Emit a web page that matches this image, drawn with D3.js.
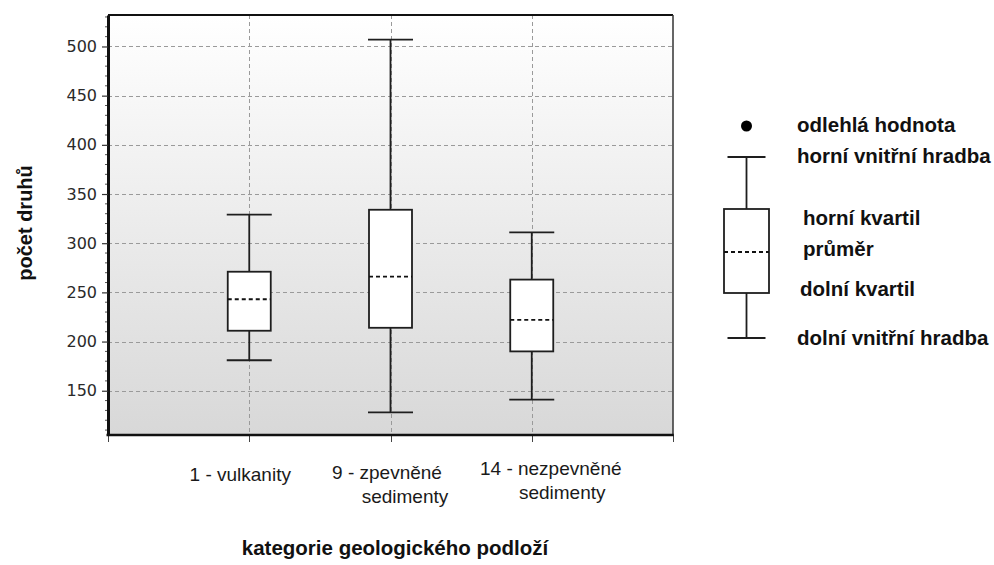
<!DOCTYPE html>
<html>
<head>
<meta charset="utf-8">
<script src="https://cdn.jsdelivr.net/npm/d3@7"></script>
<style>
  html, body { margin: 0; padding: 0; background: #ffffff; }
  svg { display: block; }
</style>
</head>
<body>
<script>
// Species counts by geological bedrock category
const categories = ["1 - vulkanity", "9 - zpevněné sedimenty", "14 - nezpevněné sedimenty"];
const categoryLines = [["1 - vulkanity"], ["9 - zpevněné", "sedimenty"], ["14 - nezpevněné", "sedimenty"]];
const lowerFence    = [181, 128, 141];
const lowerQuartile = [211, 214, 190];
const meanValue     = [243, 266, 222];
const upperQuartile = [271, 334, 263];
const upperFence    = [329, 507, 311];
const yTicks = [150, 200, 250, 300, 350, 400, 450, 500];
const legendLabels = ["odlehlá hodnota", "horní vnitřní hradba", "horní kvartil", "průměr", "dolní kvartil", "dolní vnitřní hradba"];

const W = 994, H = 565;
const plot = { left: 108, right: 673, top: 15, bottom: 435 };
const ink = "#1e1e1e", lineW = 1.8;

const svg = d3.select("body").append("svg").attr("width", W).attr("height", H);

const x = d3.scalePoint().domain(categories).range([plot.left, plot.right]).padding(1);
const y = d3.scaleLinear().domain([105, 532]).range([plot.bottom, plot.top]);

// plot background gradient
const defs = svg.append("defs");
const grad = defs.append("linearGradient").attr("id", "bg").attr("x1", 0).attr("y1", 0).attr("x2", 0).attr("y2", 1);
grad.append("stop").attr("offset", "0%").attr("stop-color", "#ffffff");
grad.append("stop").attr("offset", "100%").attr("stop-color", "#d8d8d8");

svg.append("rect")
  .attr("x", plot.left).attr("y", plot.top)
  .attr("width", plot.right - plot.left).attr("height", plot.bottom - plot.top)
  .attr("fill", "url(#bg)");

// grid lines
const grid = svg.append("g").attr("stroke", "#9a9a9a").attr("stroke-width", 1).attr("stroke-dasharray", "4,3");
grid.selectAll("line.h").data(yTicks).join("line").attr("class", "h")
  .attr("x1", plot.left).attr("x2", plot.right)
  .attr("y1", d => Math.round(y(d)) + 0.5).attr("y2", d => Math.round(y(d)) + 0.5);
grid.selectAll("line.v").data(categories).join("line").attr("class", "v")
  .attr("x1", d => Math.round(x(d)) + 0.5).attr("x2", d => Math.round(x(d)) + 0.5)
  .attr("y1", plot.top).attr("y2", plot.bottom);

// frame: top and right borders
svg.append("line").attr("x1", plot.left).attr("x2", plot.right).attr("y1", plot.top).attr("y2", plot.top)
  .attr("stroke", "#111").attr("stroke-width", 2);
svg.append("line").attr("x1", plot.right).attr("x2", plot.right).attr("y1", plot.top).attr("y2", plot.bottom)
  .attr("stroke", "#333").attr("stroke-width", 1.5);

// y axis with minor ticks
const minor = d3.range(110, 531, 10).filter(v => v % 50 !== 0);
svg.append("g").selectAll("line").data(minor).join("line")
  .attr("x1", plot.left - 3).attr("x2", plot.left)
  .attr("y1", d => y(d)).attr("y2", d => y(d))
  .attr("stroke", "#555").attr("stroke-width", 1);

const yAxis = svg.append("g").attr("transform", `translate(${plot.left},0)`)
  .call(d3.axisLeft(y).tickValues(yTicks).tickSize(6).tickPadding(5).tickSizeOuter(0));
yAxis.select(".domain").attr("stroke", "#111").attr("stroke-width", 3);
yAxis.selectAll(".tick line").attr("stroke", "#333").attr("stroke-width", 1.2);
yAxis.selectAll(".tick text")
  .attr("font-family", "'DejaVu Sans', Verdana, sans-serif").attr("font-size", 16).attr("fill", "#2a2a2a");

// x axis
const xTickVals = [plot.left, ...categories.map(c => x(c)), plot.right];
svg.append("g").selectAll("line").data(xTickVals).join("line")
  .attr("x1", d => Math.round(d) + 0.5).attr("x2", d => Math.round(d) + 0.5)
  .attr("y1", plot.bottom).attr("y2", plot.bottom + 7)
  .attr("stroke", "#444").attr("stroke-width", 1);
svg.append("line").attr("x1", plot.left - 1.5).attr("x2", plot.right + 0.75)
  .attr("y1", plot.bottom).attr("y2", plot.bottom)
  .attr("stroke", "#111").attr("stroke-width", 2.5);

// category labels (slightly staggered, as laid out)
const labelLayout = [
  { dx: [-9], base: [481] },
  { dx: [-3.5, 14.5], base: [479, 503] },
  { dx: [19, 30.5], base: [475, 499] }
];
const catG = svg.append("g").attr("font-family", "'Liberation Sans', Arial, sans-serif")
  .attr("font-size", 19).attr("fill", "#1a1a1a").attr("text-anchor", "middle");
categories.forEach((c, i) => {
  categoryLines[i].forEach((line, j) => {
    catG.append("text")
      .attr("x", x(c) + labelLayout[i].dx[j])
      .attr("y", labelLayout[i].base[j])
      .text(line);
  });
});

// boxes
const boxW = 43, capW = 45;
const boxes = svg.append("g").selectAll("g").data(categories).join("g");
boxes.append("line")
  .attr("x1", d => x(d)).attr("x2", d => x(d))
  .attr("y1", (d, i) => y(upperFence[i])).attr("y2", (d, i) => y(lowerFence[i]))
  .attr("stroke", ink).attr("stroke-width", lineW);
boxes.append("line")
  .attr("x1", d => x(d) - capW / 2).attr("x2", d => x(d) + capW / 2)
  .attr("y1", (d, i) => y(upperFence[i])).attr("y2", (d, i) => y(upperFence[i]))
  .attr("stroke", ink).attr("stroke-width", lineW);
boxes.append("line")
  .attr("x1", d => x(d) - capW / 2).attr("x2", d => x(d) + capW / 2)
  .attr("y1", (d, i) => y(lowerFence[i])).attr("y2", (d, i) => y(lowerFence[i]))
  .attr("stroke", ink).attr("stroke-width", lineW);
boxes.append("rect")
  .attr("x", d => x(d) - boxW / 2).attr("width", boxW)
  .attr("y", (d, i) => y(upperQuartile[i]))
  .attr("height", (d, i) => y(lowerQuartile[i]) - y(upperQuartile[i]))
  .attr("fill", "#ffffff").attr("stroke", ink).attr("stroke-width", lineW);
boxes.append("line")
  .attr("x1", d => x(d) - boxW / 2).attr("x2", d => x(d) + boxW / 2)
  .attr("y1", (d, i) => y(meanValue[i])).attr("y2", (d, i) => y(meanValue[i]))
  .attr("stroke", "#111").attr("stroke-width", lineW).attr("stroke-dasharray", "4,3");

// axis titles
svg.append("text")
  .attr("transform", "translate(32,223) rotate(-90)")
  .attr("text-anchor", "middle")
  .attr("font-family", "'Liberation Sans', Arial, sans-serif").attr("font-weight", "bold")
  .attr("font-size", 20).attr("fill", "#111")
  .text("počet druhů");
svg.append("text")
  .attr("x", 395).attr("y", 555)
  .attr("text-anchor", "middle")
  .attr("font-family", "'Liberation Sans', Arial, sans-serif").attr("font-weight", "bold")
  .attr("font-size", 20.5).attr("fill", "#111")
  .text("kategorie geologického podloží");

// legend: schematic box plot with explanations
const lg = svg.append("g");
const lx = 746.5;
lg.append("circle").attr("cx", lx).attr("cy", 126).attr("r", 5.5).attr("fill", "#000");
lg.append("line").attr("x1", lx).attr("x2", lx).attr("y1", 157).attr("y2", 338).attr("stroke", ink).attr("stroke-width", lineW);
lg.append("line").attr("x1", lx - 19).attr("x2", lx + 19).attr("y1", 157).attr("y2", 157).attr("stroke", ink).attr("stroke-width", lineW);
lg.append("line").attr("x1", lx - 19).attr("x2", lx + 19).attr("y1", 338).attr("y2", 338).attr("stroke", ink).attr("stroke-width", lineW);
lg.append("rect").attr("x", lx - 22.5).attr("y", 209).attr("width", 45).attr("height", 84)
  .attr("fill", "#fff").attr("stroke", ink).attr("stroke-width", lineW);
lg.append("line").attr("x1", lx - 22.5).attr("x2", lx + 22.5).attr("y1", 252).attr("y2", 252)
  .attr("stroke", "#111").attr("stroke-width", lineW).attr("stroke-dasharray", "4,3");

const legendPos = [[797, 132], [797, 163], [803, 225], [803, 256], [800, 296], [797, 345]];
lg.selectAll("text").data(legendLabels).join("text")
  .attr("x", (d, i) => legendPos[i][0]).attr("y", (d, i) => legendPos[i][1])
  .attr("font-family", "'Liberation Sans', Arial, sans-serif").attr("font-weight", "bold")
  .attr("font-size", 20.5).attr("fill", "#111")
  .text(d => d);
</script>
</body>
</html>
